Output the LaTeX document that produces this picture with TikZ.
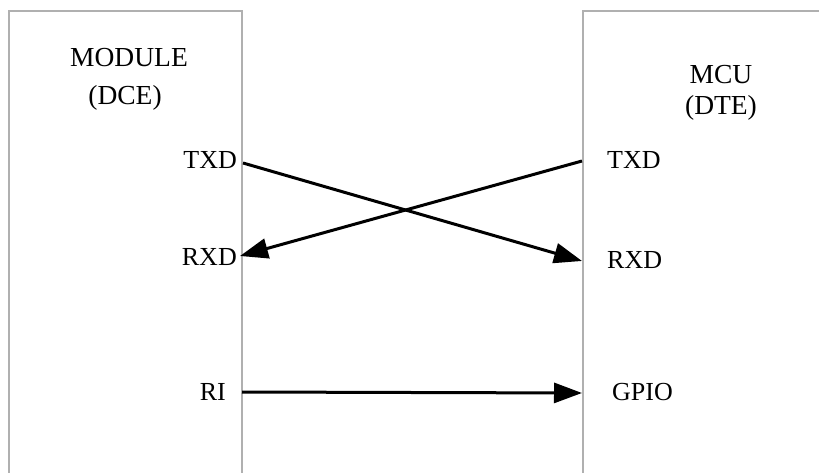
\documentclass[tikz,border=0pt]{standalone}
\usepackage{fontspec}
\setmainfont{Liberation Serif}
\usetikzlibrary{arrows.meta}
\begin{document}
\begin{tikzpicture}[x=1pt,y=-1pt,
  boxline/.style={draw={rgb,255:red,176;green,176;blue,176},line width=1.3pt},
  lbl/.style={inner sep=0pt,font=\fontsize{26}{30}\selectfont},
  ttl/.style={inner sep=0pt,font=\fontsize{27.5}{30}\selectfont},
  sig/.style={line width=3pt,-{Triangle[length=28pt,width=20pt]}}]
\useasboundingbox (0,0) rectangle (819,473);
% boxes
\draw[boxline] (9,473) -- (9,11) -- (242,11) -- (242,473);
\draw[boxline] (583,473) -- (583,11) -- (819,11);
% titles
\node[ttl,anchor=base] (module) at (129,67) {MODULE};
\node[ttl,anchor=base] (dce) at (125,105) {(DCE)};
\node[ttl,anchor=base] (mcu) at (721,84) {MCU};
\node[ttl,anchor=base] (dte) at (721,115) {(DTE)};
% pin labels
\node[lbl,anchor=base east] (ltxd) at (237,169) {TXD};
\node[lbl,anchor=base east] (lrxd) at (237,265) {RXD};
\node[lbl,anchor=base east] (lri) at (226,400) {RI};
\node[lbl,anchor=base west] (rtxd) at (607,169) {TXD};
\node[lbl,anchor=base west] (rrxd) at (607,268) {RXD};
\node[lbl,anchor=base west] (gpio) at (612,400) {GPIO};
% connection points
\coordinate (a1) at (243,163);
\coordinate (a2) at (582,261);
\coordinate (b1) at (582,161);
\coordinate (b2) at (240,256);
\coordinate (c1) at (242,392);
\coordinate (c2) at (582,393);
\draw[sig] (a1) -- (a2);
\draw[sig] (b1) -- (b2);
\draw[sig] (c1) -- (c2);
\end{tikzpicture}
\end{document}
